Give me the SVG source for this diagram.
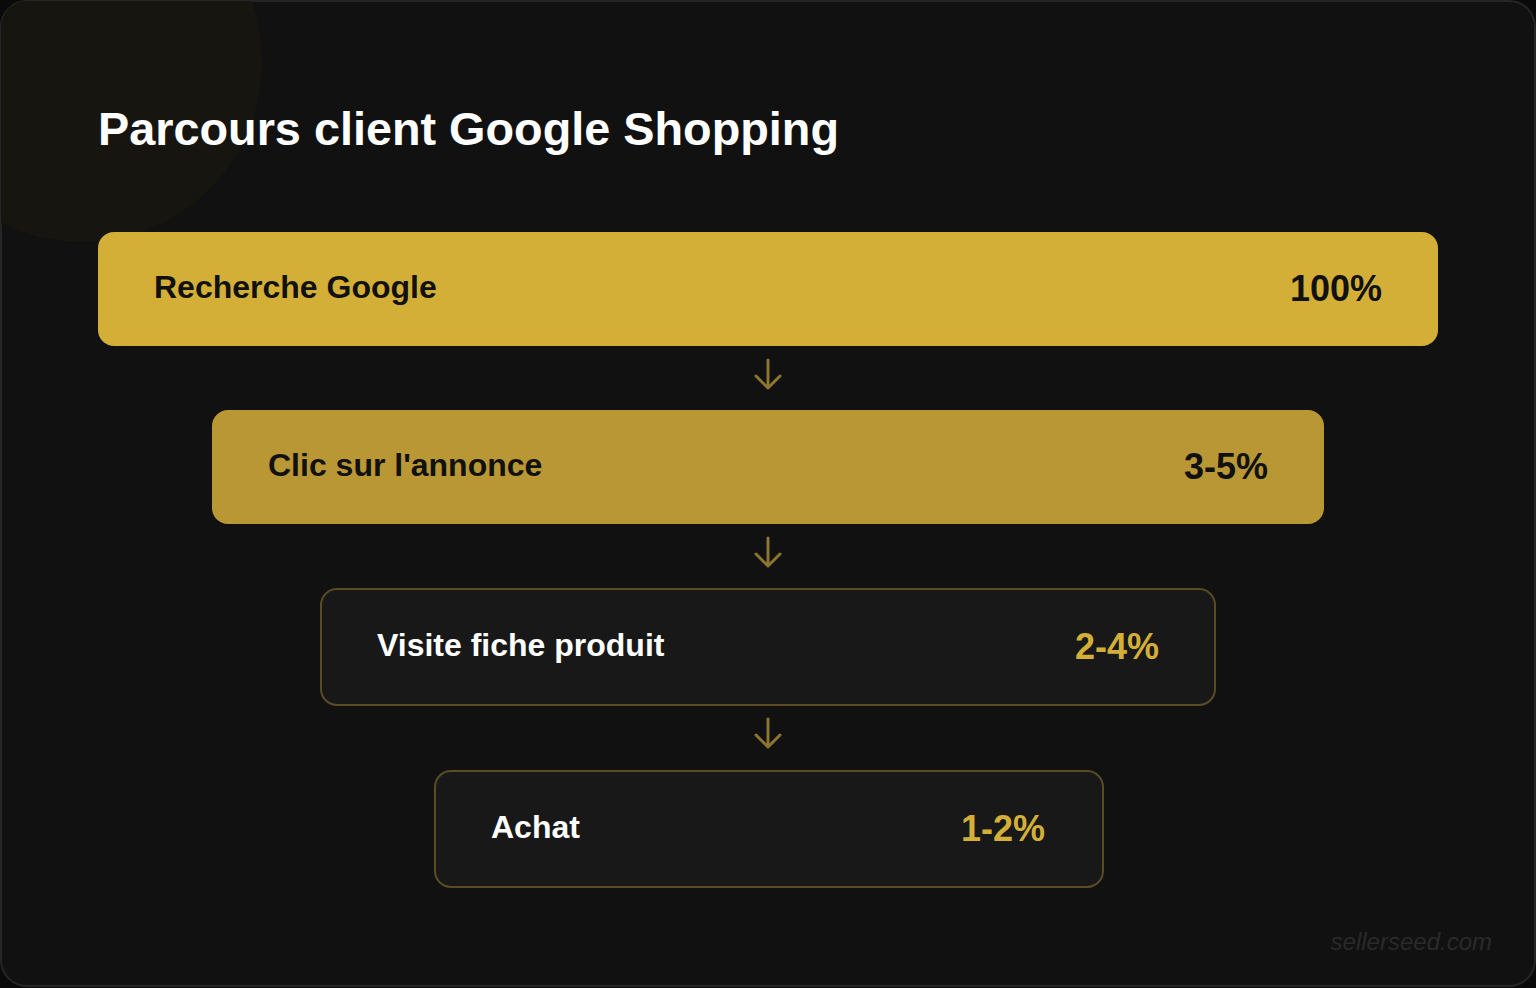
<svg xmlns="http://www.w3.org/2000/svg" width="1536" height="988" viewBox="0 0 1536 988">
<defs>
<style>
.lbl{font-family:"Liberation Sans",Arial,sans-serif;font-weight:bold;font-size:32px}
.pct{font-family:"Liberation Sans",Arial,sans-serif;font-weight:bold;font-size:36px;text-anchor:end}
.arr{fill:none;stroke:#8c7530;stroke-width:3;stroke-linecap:round;stroke-linejoin:round}
</style>
<clipPath id="card"><rect x="1" y="1" width="1534" height="985" rx="26"/></clipPath>
</defs>
<rect width="1536" height="988" fill="#0a0a0a"/>
<rect x="1" y="1" width="1534" height="985" rx="26" fill="#111111" stroke="#262626" stroke-width="2"/>
<circle cx="82" cy="62" r="180" fill="#17150f" clip-path="url(#card)"/>
<text x="98" y="145" font-family="Liberation Sans,Arial,sans-serif" font-weight="bold" font-size="46.8" fill="#ffffff">Parcours client Google Shopping</text>
<g id="n1">
<rect x="98" y="232" width="1340" height="114" rx="16" fill="#d4af37"/>
<text class="lbl" x="154" y="298" fill="#111111">Recherche Google</text>
<text class="pct" x="1382" y="301" fill="#111111">100%</text>
</g>
<g id="n2">
<rect x="212" y="410" width="1112" height="114" rx="16" fill="#b89734"/>
<text class="lbl" x="268" y="476" fill="#111111">Clic sur l'annonce</text>
<text class="pct" x="1268" y="479" fill="#111111">3-5%</text>
</g>
<g id="n3">
<rect x="321" y="589" width="894" height="116" rx="16" fill="#181818" stroke="#5a4b24" stroke-width="2"/>
<text class="lbl" x="377" y="656" fill="#ffffff">Visite fiche produit</text>
<text class="pct" x="1159" y="659" fill="#d4af37">2-4%</text>
</g>
<g id="n4">
<rect x="435" y="771" width="668" height="116" rx="16" fill="#181818" stroke="#5a4b24" stroke-width="2"/>
<text class="lbl" x="491" y="838" fill="#ffffff">Achat</text>
<text class="pct" x="1045" y="841" fill="#d4af37">1-2%</text>
</g>
<g id="connectors">
<path class="arr" d="M768 360V388M756 376L768 388L780 376"/>
<path class="arr" d="M768 538V566M756 554L768 566L780 554"/>
<path class="arr" d="M768 719V747M756 735L768 747L780 735"/>
</g>
<text x="1492" y="950" font-family="Liberation Sans,Arial,sans-serif" font-style="italic" font-size="24" fill="#2a2a2a" text-anchor="end">sellerseed.com</text>
</svg>
